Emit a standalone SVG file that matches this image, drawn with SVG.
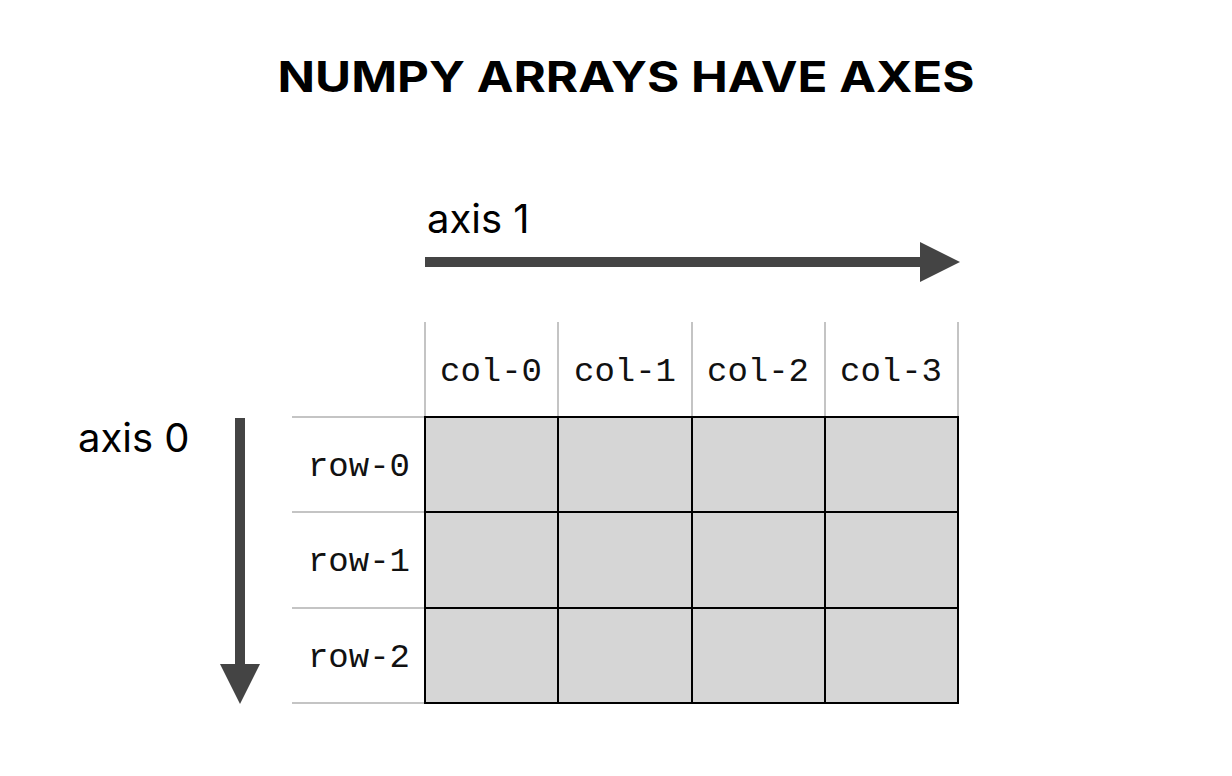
<svg xmlns="http://www.w3.org/2000/svg" width="1232" height="776" viewBox="0 0 1232 776">
<style>
.t{font-family:Inter,"Liberation Sans",sans-serif;fill:#000}
.m{font-family:"Liberation Mono",monospace;font-size:34px;fill:#111}
.g{stroke:#c4c4c4;stroke-width:2}
.c{fill:#d6d6d6;stroke:#000;stroke-width:2}
</style>
<rect width="1232" height="776" fill="#fff"/>
<text class="t" x="626" y="92" font-size="42" font-weight="700" text-anchor="middle" textLength="697" lengthAdjust="spacingAndGlyphs">NUMPY ARRAYS HAVE AXES</text>
<text class="t" x="427" y="233" font-size="40">axis 1</text>
<text class="t" x="78" y="452" font-size="40">axis 0</text>
<g id="connectors" fill="#444">
<rect x="425" y="257" width="497" height="10"/>
<polygon points="920,242 960,262 920,282"/>
<rect x="235" y="418" width="10" height="248"/>
<polygon points="220,664 260,664 240,704"/>
</g>
<g id="headers">
<line class="g" x1="425" y1="322" x2="425" y2="417"/>
<line class="g" x1="558" y1="322" x2="558" y2="417"/>
<line class="g" x1="692" y1="322" x2="692" y2="417"/>
<line class="g" x1="825" y1="322" x2="825" y2="417"/>
<line class="g" x1="958" y1="322" x2="958" y2="417"/>
<line class="g" x1="292" y1="417" x2="425" y2="417"/>
<line class="g" x1="292" y1="512" x2="425" y2="512"/>
<line class="g" x1="292" y1="608" x2="425" y2="608"/>
<line class="g" x1="292" y1="703" x2="425" y2="703"/>
<text class="m" x="491" y="381" text-anchor="middle">col-0</text>
<text class="m" x="625" y="381" text-anchor="middle">col-1</text>
<text class="m" x="758" y="381" text-anchor="middle">col-2</text>
<text class="m" x="891" y="381" text-anchor="middle">col-3</text>
<text class="m" x="410" y="476" text-anchor="end">row-0</text>
<text class="m" x="410" y="571" text-anchor="end">row-1</text>
<text class="m" x="410" y="667" text-anchor="end">row-2</text>
</g>
<g id="grid">
<rect class="c" x="425" y="417" width="533" height="286"/>
<path d="M558 417V703M692 417V703M825 417V703M425 512H958M425 608H958" stroke="#000" stroke-width="2" fill="none"/>
</g>
</svg>
